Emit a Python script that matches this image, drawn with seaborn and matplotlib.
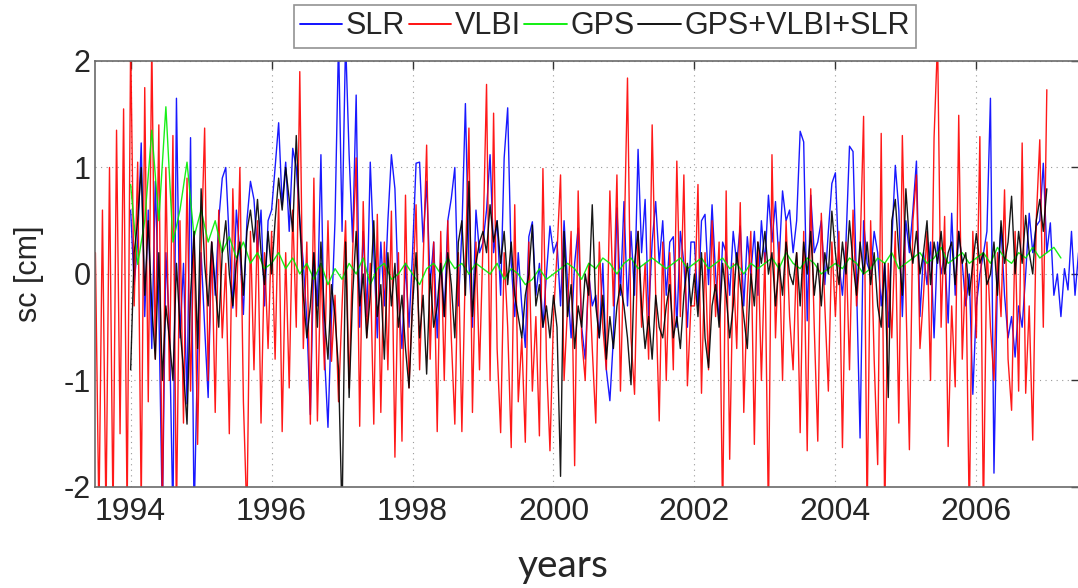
import numpy as np
import pandas as pd
import matplotlib
matplotlib.use("Agg")
import matplotlib.pyplot as plt
from matplotlib.lines import Line2D
import seaborn as sns

# ---------------- data ----------------
step = 0.05

vlbi_start = 1993.50
vlbi = [
    # 1993.50 - 1993.95
    0.2, -2.3, 0.6, -2.3, 1.0, -2.3, 1.35, -1.5, 1.55, -2.3,
    # 1994
    2.2, -0.3, 1.05, -2.2, 1.75, -1.2, 2.2, -0.8, 1.4, -2.3, 1.0, -1.0, 1.3, -2.3, 0.5, -1.4, 0.9, -1.1, 0.4, -1.6,
    # 1995
    0.2, 1.37, -1.0, 0.3, -1.3, 0.6, -0.6, 0.1, -1.5, 0.8, -0.4, 1.0, -1.2, -2.3, 0.4, -0.9, 0.5, -1.4, 0.2, -0.7,
    # 1996
    0.4, -0.8, 0.7, -1.48, 0.2, -1.07, 0.6, -0.5, 1.9, -0.7, 0.3, -1.41, 0.9, -1.38, 0.1, -0.9, 0.5, -0.82, -0.2, -1.2,
    # 1997
    -0.3, 0.5, -1.07, 0.2, 1.09, -1.43, 0.68, -0.6, 0.1, -1.41, 0.56, -1.3, 0.3, -0.9, 0.59, -1.72, 0.2, -1.57, 0.74, -1.07,
    # 1998
    -0.2, 0.65, -0.9, 0.1, 1.21, -0.8, 0.3, -1.48, 0.4, -1.0, 0.5, -0.6, -1.41, 0.2, -1.48, 0.1, 1.37, -1.3, 0.3, -0.9,
    # 1999
    0.3, 1.78, -1.0, 1.51, -0.7, -1.49, 0.2, -0.5, -1.63, 0.65, -1.2, -0.6, -1.58, 0.3, -1.1, -0.4, -1.52, 0.99, -0.8, -1.66,
    # 2000
    -0.4, 0.2, 0.93, -1.0, -0.3, 0.4, -1.8, 0.78, -0.6, -1.0, 0.1, -0.7, -1.4, 0.3, -0.5, -0.9, 0.78, -0.3, 0.93, -1.1,
    # 2001
    0.2, 1.84, -0.6, -1.13, 0.4, -0.5, 0.1, -0.8, 1.4, -0.2, -1.38, 0.3, -1.0, 0.2, -0.9, 1.06, -0.4, 0.93, -1.05, -0.3,
    # 2002
    -0.3, 0.84, -1.12, 0.2, -0.9, 0.5, -0.4, 0.3, -2.3, 0.78, -1.74, 0.1, -0.7, 0.67, -1.3, -0.2, 0.4, -1.6, 0.3, -1.0,
    # 2003
    0.2, -2.3, 1.12, -0.6, 0.3, -1.0, 0.5, -0.4, -0.9, 0.2, -1.49, 0.4, -1.66, 0.8, -0.5, -1.57, 0.57, -0.3, -1.1, 0.3,
    # 2004
    -0.4, 0.4, -1.63, 0.3, -0.9, 0.6, -0.3, 0.2, 1.48, -2.3, 0.5, -0.8, -1.79, 1.32, -2.3, 0.1, -0.6, 0.4, -1.4, 1.3,
    # 2005
    -0.2, -1.65, 0.5, 0.93, -0.7, -0.2, 0.4, -1.0, 1.28, 2.2, -0.5, 0.54, -1.62, -0.3, -1.06, 1.49, -0.8, 0.1, -2.3, 0.4,
    # 2006 - 2007.00
    -0.6, 1.29, -2.3, 0.3, -0.5, -1.0, 0.2, -0.4, 0.79, -0.8, -1.28, 0.4, -1.1, 1.23, -1.12, -0.3, -1.56, 0.5, 1.26, -0.5,
    1.73,
]

slr_start = 1994.00
slr = [
    # 1994
    0.6, -0.1, 0.3, 1.23, -0.4, 0.6, -0.7, 0.87, -0.3, -2.3, 0.2, -0.5, -2.3, 1.65, -0.6, 0.1, -1.22, 1.28, -2.3, -0.75,
    # 1995
    0.2, -0.5, -1.16, 0.3, -0.2, 0.5, 0.9, 1.0, 0.3, -0.32, 0.6, 0.2, -0.38, 0.5, 0.87, 0.7, 0.2, 0.6, -0.3, 0.5,
    # 1996
    0.6, 1.0, 1.42, 0.65, 1.05, 0.4, 1.18, 1.0, 0.5, 0.1, -0.44, -1.32, 0.2, -0.3, 1.12, -0.75, -1.44, -0.4, 0.5, 2.2,
    # 1997
    0.4, 2.2, 1.12, 0.3, 1.68, -0.5, 0.4, -0.4, 1.05, 0.2, -0.6, 0.3, -0.3, 0.5, 1.12, 0.8, -0.2, -0.7, 0.1, -0.5,
    # 1998
    0.2, 1.04, 1.05, 0.3, 0.87, -0.1, 0.3, -0.6, 0.2, -0.4, 0.5, 0.71, 1.0, -0.3, 0.4, 1.6, 0.1, -0.5, 0.6, 0.2,
    # 1999
    0.3, 0.6, 1.12, 0.2, 0.5, -0.2, 1.09, 1.56, 0.1, -0.4, 0.2, -0.3, -0.69, 0.35, 0.49, -0.2, 0.1, -0.5, 0.0, 0.45,
    # 2000
    0.2, 0.3, -0.3, 0.5, -0.1, -0.6, 0.1, 0.43, -0.5, -0.8, 0.0, -0.3, -0.2, -0.6, 0.1, -0.9, -1.19, -0.6, 0.62, -0.2,
    # 2001
    0.68, -0.3, 0.4, -0.2, 1.17, 0.2, 0.7, -0.4, 0.3, 0.68, 0.1, 0.5, -0.2, 0.3, 0.35, -0.5, 0.4, 0.1, -0.5, 0.3,
    # 2002
    0.3, -0.3, 0.5, 0.56, -0.1, 0.65, 0.0, -0.44, 0.3, 0.2, -0.2, 0.4, 0.1, 0.45, -0.3, 0.35, 0.0, 0.4, -0.2, 0.5,
    # 2003
    0.1, 0.74, 0.3, 0.68, 0.1, 0.78, 0.5, 0.6, 0.2, 0.5, 1.34, 1.24, -0.44, 0.74, 0.2, 0.3, 0.5, -0.1, 0.4, 0.85,
    # 2004
    0.95, 0.1, -0.2, 0.3, 1.2, 1.15, -0.1, -1.54, 0.5, 0.1, 0.0, 0.4, 0.2, -0.3, 0.1, -0.5, 0.3, 1.02, 0.6, -0.4,
    # 2005
    0.5, 0.2, 0.6, 1.06, -0.4, 0.2, -0.1, 0.3, -0.6, 0.3, 0.0, 0.2, -0.46, 0.57, -0.2, 0.4, 0.1, -0.3, 0.0, -1.13,
    # 2006
    -0.3, 0.0, 0.19, 0.4, 1.65, -1.87, 0.0, 0.44, -0.2, -0.6, -0.4, -0.78, -0.3, -0.5, 0.0, 0.57, 0.2, 0.45, 0.5, 1.04,
    # 2007.00 - 2007.45
    0.2, 0.48, -0.2, 0.0, -0.4, 0.05, -0.15, 0.4, -0.2, 0.2,
]

comb_start = 1994.00
comb = [
    # 1994
    -0.9, 0.2, 0.5, 1.0, -0.2, 0.5, -0.3, -0.8, 0.2, -1.0, -0.3, -0.6, -1.0, 0.1, -0.5, -0.9, -1.41, -0.2, 0.4, -0.7,
    # 1995
    0.8, 0.1, -0.3, 0.3, -0.1, -0.5, 0.2, 0.5, 0.0, -0.3, 0.1, 0.3, -0.2, 0.4, 0.6, 0.3, 0.7, 0.2, -0.1, 0.4,
    # 1996
    0.0, 0.5, 0.9, 0.6, 1.0, 0.7, 0.4, 1.3, 0.5, -0.2, -0.6, -0.3, 0.2, -0.5, 0.3, -0.4, -0.8, -0.1, -0.4, -0.9,
    # 1997
    -2.3, 0.3, -1.16, -0.2, 0.4, -0.3, 0.0, -0.6, -0.2, 0.5, -0.4, -0.1, -0.8, 0.2, -0.3, 0.1, -0.5, -0.2, -0.7, -1.07,
    # 1998
    -0.3, 0.2, -0.6, -0.2, -0.94, 0.0, -0.5, -0.3, 0.1, -0.4, 0.2, -0.1, -0.6, 0.3, 0.5, -0.2, 0.87, -0.4, 0.1, 0.3,
    # 1999
    0.4, 0.2, 0.65, 0.3, 0.5, 0.1, 0.4, -0.1, 0.3, -0.2, -0.4, -0.6, -0.2, 0.0, 0.46, -0.3, -0.1, -0.5, -0.3, -0.6,
    # 2000
    -0.2, -0.5, -1.9, 0.4, -0.4, -0.1, -0.7, -0.3, -0.5, 0.0, -0.2, 0.65, -0.3, -0.6, -0.2, -0.8, -0.4, -0.7, -0.3, -0.1,
    # 2001
    -0.3, -0.6, -1.04, 0.1, 0.4, -0.3, -0.7, -0.4, -0.8, -0.2, -0.5, -0.6, -0.3, -0.1, -0.6, -0.4, -0.7, -0.2, 0.1, -0.3,
    # 2002
    0.0, -0.4, 0.2, -0.6, -0.88, -0.3, -0.1, -0.5, 0.1, -0.2, -0.6, -0.3, 0.2, -0.1, -0.4, -0.7, 0.0, -0.3, 0.3, 0.1,
    # 2003
    0.4, 0.0, 0.2, -0.3, 0.1, -0.2, 0.3, 0.0, -0.1, 0.2, -0.3, 0.3, 0.0, 0.4, -0.2, 0.1, -0.3, 0.2, 0.0, 0.59,
    # 2004
    0.2, -0.1, 0.3, 0.0, 0.5, 0.1, -0.2, 0.3, 0.0, 0.3, -0.1, 0.2, -0.3, -0.5, 0.1, -1.16, 0.5, 0.7, 0.2, -0.2,
    # 2005
    0.8, 0.3, 0.1, 0.4, 0.0, 0.2, 0.5, -0.1, 0.3, 0.1, 0.4, 0.0, 0.2, 0.3, -0.1, 0.4, 0.1, 0.2, -0.2, 0.1,
    # 2006 - 2007.00
    0.38, 0.1, 0.2, -0.1, 0.0, 0.3, -0.2, 0.5, 0.1, 0.3, 0.73, 0.0, 0.4, 0.1, 0.55, 0.2, 0.0, 0.5, 0.7, 0.4,
    0.8,
]

gps_start = 1994.0
gps_step = 0.1
gps = [
    0.84, 0.09, 0.5, 1.35, 0.5, 1.57, 0.3, 0.6, 1.05, 0.35,      # 1994
    0.6, 0.3, 0.5, 0.2, 0.35, 0.15, 0.3, 0.1, 0.2, 0.05,         # 1995
    0.1, 0.2, 0.05, 0.15, 0.0, 0.1, -0.05, 0.1, -0.1, 0.05,      # 1996
    -0.05, 0.1, 0.0, 0.15, -0.1, 0.05, 0.1, -0.05, 0.0, 0.1,     # 1997
    0.0, -0.1, 0.05, 0.1, 0.0, 0.15, 0.05, 0.1, 0.0, 0.1,        # 1998
    0.05, 0.0, 0.1, -0.05, 0.05, 0.0, -0.1, -0.05, 0.05, -0.05,  # 1999
    0.0, 0.05, 0.1, 0.05, -0.05, 0.1, 0.05, 0.15, 0.1, 0.0,      # 2000
    0.1, 0.15, 0.05, 0.1, 0.15, 0.1, 0.05, 0.1, 0.15, 0.05,      # 2001
    0.1, 0.15, 0.05, 0.1, 0.15, 0.05, 0.1, 0.0, 0.1, 0.05,       # 2002
    0.1, 0.15, 0.05, 0.2, 0.1, 0.05, 0.15, 0.1, 0.0, 0.05,       # 2003
    0.1, 0.05, 0.15, 0.1, 0.0, 0.05, 0.15, 0.1, 0.2, 0.05,       # 2004
    0.1, 0.15, 0.2, 0.1, 0.15, 0.25, 0.1, 0.15, 0.2, 0.1,        # 2005
    0.15, 0.2, 0.1, 0.25, 0.15, 0.1, 0.2, 0.15, 0.25, 0.15,      # 2006
    0.2, 0.25, 0.15,                                             # 2007
]

series_names = ["SLR", "VLBI", "GPS", "GPS+VLBI+SLR"]
series_colors = ["#0000ff", "#ff0000", "#00ee00", "#000000"]
x_ticks = [1994, 1996, 1998, 2000, 2002, 2004, 2006]
y_ticks = [-2, -1, 0, 1, 2]

# ---------------- build long table ----------------
def frame(name, start, stp, vals):
    yrs = start + stp * np.arange(len(vals))
    return pd.DataFrame({"year": yrs, "sc": vals, "series": name})

df = pd.concat([
    frame("SLR", slr_start, step, slr),
    frame("VLBI", vlbi_start, step, vlbi),
    frame("GPS", gps_start, gps_step, gps),
    frame("GPS+VLBI+SLR", comb_start, step, comb),
], ignore_index=True)

# ---------------- plot ----------------
sns.set_style("white")
plt.rcParams["font.family"] = ["Liberation Sans", "DejaVu Sans"]

fig = plt.figure(figsize=(10.78, 5.88), dpi=100)
ax = fig.add_axes([0.0885, 0.1718, 0.912, 0.7245])

sns.lineplot(data=df, x="year", y="sc", hue="series", hue_order=series_names,
             palette=dict(zip(series_names, series_colors)), estimator=None,
             sort=False, linewidth=1.0, alpha=0.9, legend=False, ax=ax)

ax.set_xlim(1993.5, 2007.45)
ax.set_ylim(-2, 2)
ax.set_xticks(x_ticks)
ax.set_yticks(y_ticks)
ax.set_xticklabels([str(t) for t in x_ticks])
ax.set_yticklabels([str(t) for t in y_ticks])
ax.grid(True, linestyle=(0, (1, 4)), color="#9a9a9a", linewidth=0.8)
ax.tick_params(axis="both", direction="in", length=6, width=1.0, color="#333333",
               top=True, right=True)
ax.tick_params(axis="x", pad=7, labelsize=23)
ax.tick_params(axis="y", pad=3.5, labelsize=22)
for sp in ax.spines.values():
    sp.set_visible(True)
    sp.set_color("#6a6a6a")
    sp.set_linewidth(1.2)

ax.set_xlabel("")
ax.set_ylabel("sc [cm]", fontsize=22, labelpad=14)
fig.text(0.522, 0.038, "years", fontsize=28, family=["Lato", "DejaVu Sans"],
         ha="center", va="center")

handles = [Line2D([0], [0], color=c, lw=1.3) for c in series_colors]
leg = fig.legend(handles, series_names, loc="center", bbox_to_anchor=(0.561, 0.955),
                 ncol=4, fontsize=22, frameon=True, fancybox=False,
                 handlelength=1.4, handletextpad=0.12, columnspacing=0.1,
                 borderpad=0.2, borderaxespad=0)
leg.get_frame().set_edgecolor("#777777")
leg.get_frame().set_linewidth(1.2)

fig.savefig("out.png", dpi=100)
